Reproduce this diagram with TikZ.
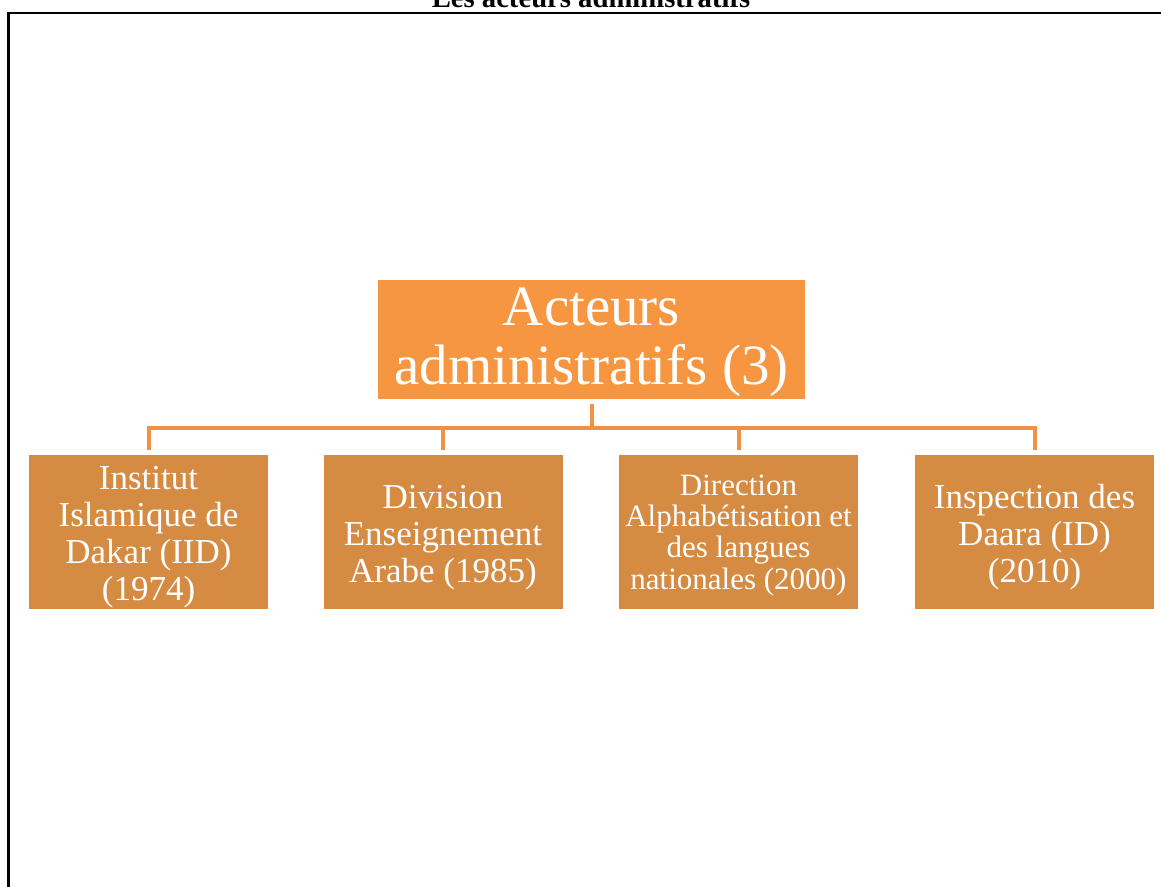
\documentclass[tikz,border=0pt]{standalone}
\usepackage{fontspec}
\setmainfont{Liberation Serif}

\definecolor{topfill}{HTML}{F69640}
\definecolor{subfill}{HTML}{D68B43}
\definecolor{linkcol}{HTML}{EF9248}

% texte centre, abaisse de #1 sans changer la taille de la boite
\newcommand{\lowtext}[2]{\raisebox{-#1}[\height][\depth]{\begin{tabular}{@{}c@{}}#2\end{tabular}}}

\begin{document}
\begin{tikzpicture}[x=0.75pt,y=-0.75pt]
      \tikzstyle{every node}+=[inner sep=0pt]
      \tikzstyle{topbox}=[fill=topfill, text=white,
        minimum width=320.25pt, minimum height=89.25pt,
        font=\fontsize{42.75}{44.25}\selectfont]
      \tikzstyle{subbox}=[fill=subfill, text=white,
        minimum width=179.25pt, minimum height=115.5pt,
        font=\fontsize{26.25}{27.75}\selectfont]
      \tikzstyle{link}=[linkcol, line width=3pt]
      \useasboundingbox (0,0) rectangle (1161,886);
      % titre et cadre
      \node (title) [anchor=base, font=\bfseries\fontsize{21.5}{22}\selectfont] at (591,7.3) {Les acteurs administratifs};
      \draw [black, line width=1.8pt] (1180,13) -- (8.5,13) -- (8.5,900);
      % boites
      \node (top) [topbox] at (591.5,339.5) {\lowtext{3pt}{Acteurs\\administratifs (3)}};
      \node (iid) [subbox] at (148.5,532) {\lowtext{4.5pt}{Institut\\Islamique de\\Dakar (IID)\\(1974)}};
      \node (dea) [subbox] at (443,532) {\lowtext{4.5pt}{Division\\Enseignement\\Arabe (1985)}};
      \node (dal) [subbox, font=\fontsize{23.25}{23.5}\selectfont] at (738.5,532) {\lowtext{3pt}{Direction\\Alphabétisation et\\des langues\\nationales (2000)}};
      \node (ida) [subbox] at (1034.5,532) {\lowtext{4.5pt}{Inspection des\\Daara (ID)\\(2010)}};
      % liaisons
      \coordinate (bus) at (591.5,428);
      \draw [link, shorten <=3.5pt] (top.south) -- (bus);
      \draw [link, shorten >=3.75pt] (bus) -| (iid.north);
      \draw [link, shorten >=3.75pt] (bus) -| (dea.north);
      \draw [link, shorten >=3.75pt] (bus) -| (dal.north);
      \draw [link, shorten >=3.75pt] (bus) -| (ida.north);
\end{tikzpicture}
\end{document}
